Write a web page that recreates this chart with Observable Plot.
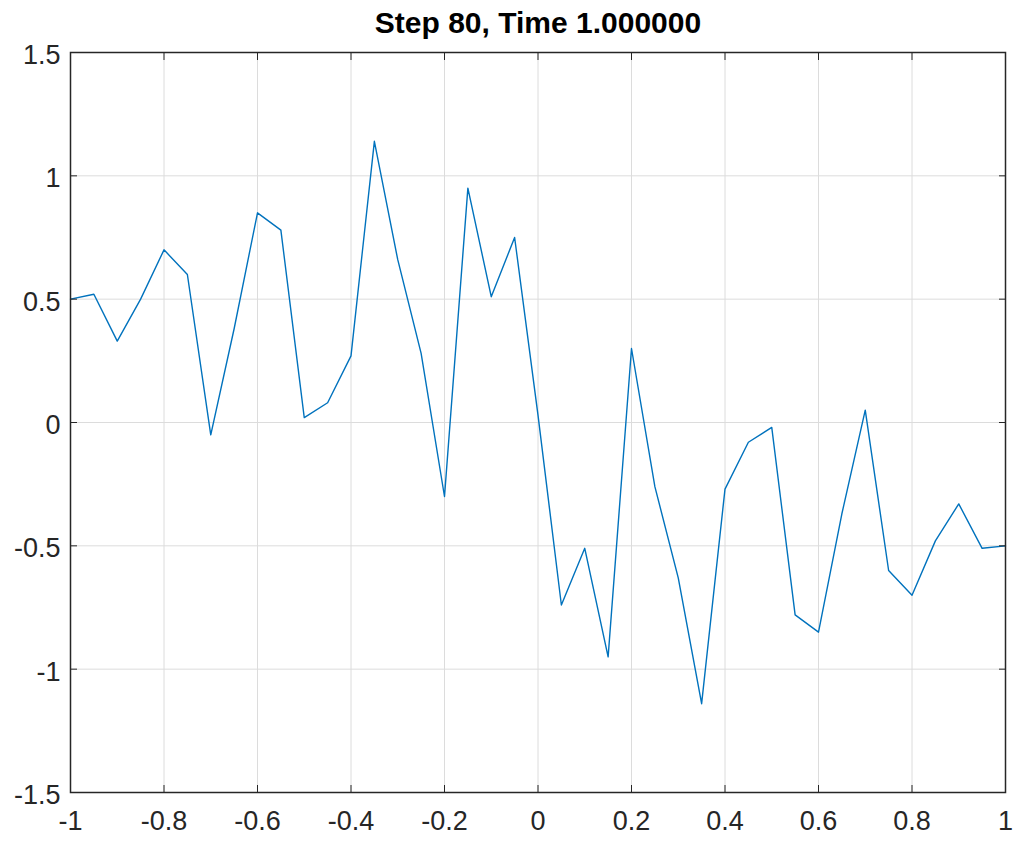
<!DOCTYPE html>
<html>
<head>
<meta charset="utf-8">
<script src="https://cdn.jsdelivr.net/npm/d3@7"></script>
<script src="https://cdn.jsdelivr.net/npm/@observablehq/plot@0.6"></script>
<style>
  html, body { margin: 0; padding: 0; background: #fff; }
</style>
</head>
<body>
<div id="chart"></div>
<script>
const titleText = "Step 80, Time 1.000000";
const xs = [-1, -0.95, -0.9, -0.85, -0.8, -0.75, -0.7, -0.65, -0.6, -0.55, -0.5, -0.45, -0.4, -0.35, -0.3, -0.25, -0.2, -0.15, -0.1, -0.05, 0, 0.05, 0.1, 0.15, 0.2, 0.25, 0.3, 0.35, 0.4, 0.45, 0.5, 0.55, 0.6, 0.65, 0.7, 0.75, 0.8, 0.85, 0.9, 0.95, 1];
const ys = [0.50, 0.52, 0.33, 0.50, 0.70, 0.60, -0.05, 0.38, 0.85, 0.78, 0.02, 0.08, 0.27, 1.14, 0.66, 0.28, -0.30, 0.95, 0.51, 0.75, 0.03, -0.74, -0.51, -0.95, 0.30, -0.26, -0.63, -1.14, -0.27, -0.08, -0.02, -0.78, -0.85, -0.37, 0.05, -0.60, -0.70, -0.48, -0.33, -0.51, -0.50];
const xTicks = [-1, -0.8, -0.6, -0.4, -0.2, 0, 0.2, 0.4, 0.6, 0.8, 1];
const yTicks = [-1.5, -1, -0.5, 0, 0.5, 1, 1.5];

const data = xs.map((x, i) => ({x, y: ys[i]}));
const fmt = d => String(Math.round(d * 10) / 10);

const chart = Plot.plot({
  width: 1014,
  height: 842,
  marginLeft: 70,
  marginRight: 9,
  marginTop: 52,
  marginBottom: 50,
  style: {fontFamily: "'Liberation Sans', Arial, sans-serif", fontSize: "27px", color: "#262626", background: "#fff"},
  x: {domain: [-1, 1], ticks: xTicks},
  y: {domain: [-1.5, 1.5], ticks: yTicks},
  marks: [
    Plot.gridX(xTicks, {stroke: "#dcdcdc", strokeOpacity: 1, strokeWidth: 1}),
    Plot.gridY(yTicks, {stroke: "#dcdcdc", strokeOpacity: 1, strokeWidth: 1}),
    Plot.line(data, {x: "x", y: "y", stroke: "#0072BD", strokeWidth: 1.4}),
    Plot.axisX(xTicks, {anchor: "bottom", tickSize: 0, tickPadding: 18, tickFormat: fmt, fill: "#262626", fontSize: 27, label: null}),
    Plot.axisY(yTicks, {anchor: "left", tickSize: 0, tickPadding: 10, dy: 3, tickFormat: fmt, fill: "#262626", fontSize: 27, label: null}),
    Plot.axisX(xTicks, {anchor: "bottom", tickSize: -7, tickFormat: null, text: null, stroke: "#262626", label: null}),
    Plot.axisX(xTicks, {anchor: "top", tickSize: -7, tickFormat: null, text: null, stroke: "#262626", label: null}),
    Plot.axisY(yTicks, {anchor: "left", tickSize: -7, tickFormat: null, text: null, stroke: "#262626", label: null}),
    Plot.axisY(yTicks, {anchor: "right", tickSize: -7, tickFormat: null, text: null, stroke: "#262626", label: null}),
    Plot.frame({stroke: "#262626", strokeWidth: 1.5}),
    Plot.text([titleText], {frameAnchor: "top", dy: -29, fontSize: 30, fontWeight: "bold", fill: "#000", lineAnchor: "middle"})
  ]
});
document.getElementById("chart").appendChild(chart);
</script>
</body>
</html>
